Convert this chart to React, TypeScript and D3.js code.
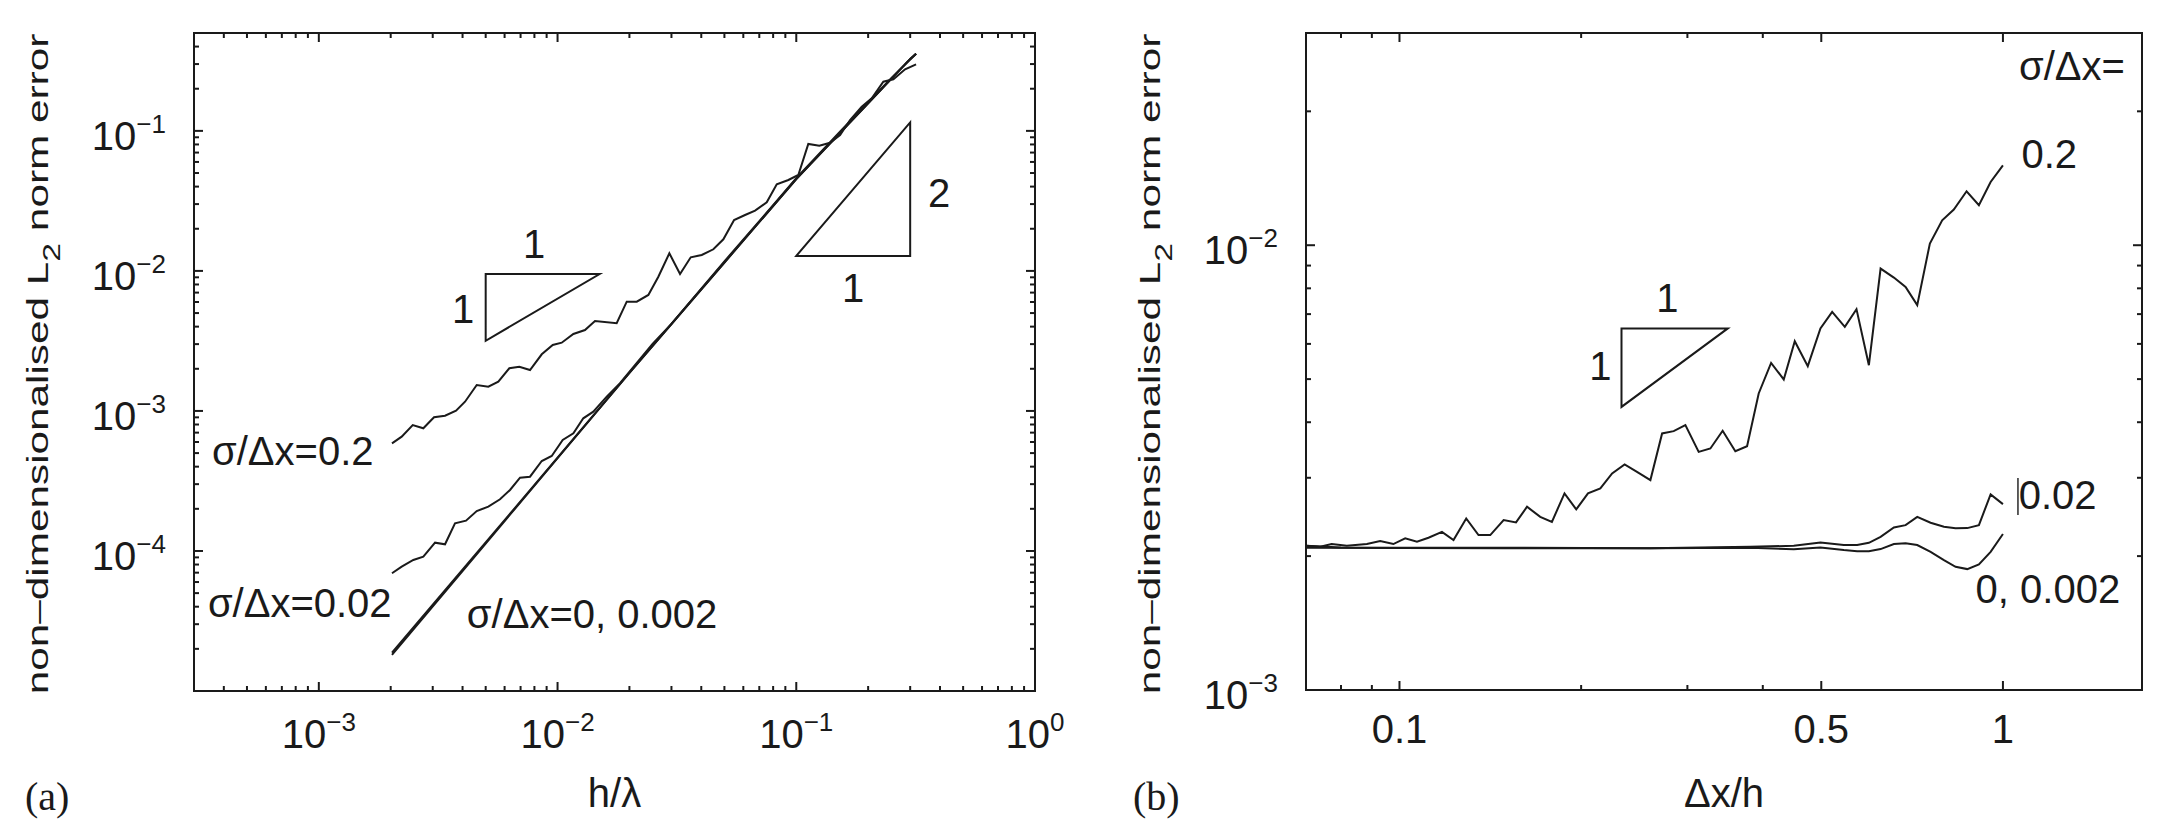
import React from 'react';
import * as d3 from 'd3';

// ================= Panel (a): error vs h/λ =================
// σ/Δx = 0.2
const aS02X = [0.002025, 0.002224, 0.002474, 0.00274, 0.003038, 0.003378, 0.003756, 0.004097, 0.004586, 0.005129, 0.005648, 0.006281, 0.006917, 0.007668, 0.008586, 0.009546, 0.01041, 0.01165, 0.01303, 0.01435, 0.01769, 0.01949, 0.02147, 0.02401, 0.02644, 0.0294, 0.03259, 0.03613, 0.04018, 0.04494, 0.0495, 0.05489, 0.06101, 0.06721, 0.07521, 0.08284, 0.09265, 0.102, 0.1123, 0.1249, 0.1385, 0.1526, 0.168, 0.188, 0.2071, 0.2316, 0.2551, 0.2856, 0.3176];
const aS02Y = [5.87e-4, 6.55e-4, 7.93e-4, 7.52e-4, 9.01e-4, 9.25e-4, 1.004e-3, 1.164e-3, 1.532e-3, 1.49e-3, 1.617e-3, 2.016e-3, 2.069e-3, 1.961e-3, 2.538e-3, 2.958e-3, 3.072e-3, 3.543e-3, 3.784e-3, 4.389e-3, 4.226e-3, 6.03e-3, 6.03e-3, 6.73e-3, 9.09e-3, 1.336e-2, 9.51e-3, 1.251e-2, 1.299e-2, 1.427e-2, 1.681e-2, 2.31e-2, 2.507e-2, 2.692e-2, 3.09e-2, 4.155e-2, 4.458e-2, 4.84e-2, 8.06e-2, 7.83e-2, 8.23e-2, 9.35e-2, 0.1196, 0.1488, 0.1709, 0.2245, 0.2336, 0.2754, 0.2989];
// σ/Δx = 0.02
const aS002X = [0.002025, 0.002224, 0.002488, 0.00274, 0.003068, 0.003378, 0.003719, 0.004136, 0.004586, 0.005129, 0.005741, 0.006323, 0.006964, 0.007668, 0.008586, 0.009453, 0.01051, 0.01165, 0.01282, 0.01412, 0.01607, 0.01827, 0.025, 0.03, 0.05, 0.08, 0.1, 0.15, 0.2, 0.25, 0.3176];
const aS002Y = [6.93e-5, 7.72e-5, 8.62e-5, 9.1e-5, 1.146e-4, 1.116e-4, 1.576e-4, 1.645e-4, 1.929e-4, 2.071e-4, 2.339e-4, 2.726e-4, 3.336e-4, 3.392e-4, 4.39e-4, 4.77e-4, 6.2e-4, 6.92e-4, 8.86e-4, 9.88e-4, 1.264e-3, 1.58e-3, 3.006e-3, 4.18e-3, 1.17e-2, 2.95e-2, 4.6e-2, 9.6e-2, 0.16, 0.238, 0.355];
// σ/Δx = 0
const aS0X = [0.002025, 0.005, 0.01, 0.02, 0.05, 0.1, 0.2, 0.3, 0.3176];
const aS0Y = [1.81e-5, 1.129e-4, 4.6e-4, 1.87e-3, 1.148e-2, 4.53e-2, 0.1576, 0.3266, 0.355];
// σ/Δx = 0.002
const aS0002X = [0.002025, 0.005, 0.01, 0.02, 0.05, 0.1, 0.2, 0.3, 0.3176];
const aS0002Y = [1.88e-5, 1.15e-4, 4.63e-4, 1.87e-3, 1.148e-2, 4.53e-2, 0.1576, 0.3266, 0.355];

// slope triangles (a)
const aTri1 = [[0.005, 0.0095], [0.015, 0.0095], [0.005, 0.00317]];
const aTri2 = [[0.1, 0.0128], [0.3, 0.0128], [0.3, 0.115]];

// ticks (a)
const aXMajor = [1e-3, 1e-2, 1e-1, 1];
const aXMajorExp = ['−3', '−2', '−1', '0'];
const aXMinor = [4e-4, 5e-4, 6e-4, 7e-4, 8e-4, 9e-4, 2e-3, 3e-3, 4e-3, 5e-3, 6e-3, 7e-3, 8e-3, 9e-3, 2e-2, 3e-2, 4e-2, 5e-2, 6e-2, 7e-2, 8e-2, 9e-2, 0.2, 0.3, 0.4, 0.5, 0.6, 0.7, 0.8, 0.9];
const aYMajor = [1e-5, 1e-4, 1e-3, 1e-2, 1e-1];
const aYLabelVals = [1e-4, 1e-3, 1e-2, 1e-1];
const aYLabelExp = ['−4', '−3', '−2', '−1'];
const aYMinor = [2e-5, 3e-5, 4e-5, 5e-5, 6e-5, 7e-5, 8e-5, 9e-5, 2e-4, 3e-4, 4e-4, 5e-4, 6e-4, 7e-4, 8e-4, 9e-4, 2e-3, 3e-3, 4e-3, 5e-3, 6e-3, 7e-3, 8e-3, 9e-3, 2e-2, 3e-2, 4e-2, 5e-2, 6e-2, 7e-2, 8e-2, 9e-2, 0.2, 0.3, 0.4];

// ================= Panel (b): error vs Δx/h =================
const bS02X = [0.07, 0.0739, 0.0772, 0.0818, 0.0883, 0.0929, 0.0977, 0.1022, 0.1069, 0.1117, 0.1176, 0.1229, 0.129, 0.1352, 0.1414, 0.1488, 0.156, 0.1627, 0.1711, 0.1789, 0.1877, 0.1963, 0.2053, 0.2152, 0.2251, 0.2361, 0.2475, 0.2605, 0.2724, 0.2847, 0.2977, 0.3132, 0.3275, 0.3432, 0.3602, 0.3767, 0.3938, 0.4129, 0.4333, 0.4519, 0.4749, 0.4984, 0.5212, 0.547, 0.5719, 0.5996, 0.627, 0.6596, 0.6897, 0.7211, 0.7567, 0.7931, 0.8291, 0.8705, 0.9124, 0.9541, 1.0];
const bS02Y = [0.00211, 0.002099, 0.002129, 0.00211, 0.002129, 0.002162, 0.002129, 0.002193, 0.002155, 0.0022, 0.002268, 0.002174, 0.00243, 0.00223, 0.00223, 0.00241, 0.002381, 0.002582, 0.002451, 0.002388, 0.002767, 0.002547, 0.002767, 0.00284, 0.003069, 0.003215, 0.003094, 0.002964, 0.003775, 0.00382, 0.00394, 0.003431, 0.003492, 0.003826, 0.003443, 0.003533, 0.004642, 0.005438, 0.004991, 0.006085, 0.005346, 0.0065, 0.007082, 0.006554, 0.007182, 0.005373, 0.008861, 0.008458, 0.008057, 0.007332, 0.010088, 0.01138, 0.012028, 0.013222, 0.0123, 0.013874, 0.015123];
const bS002X = [0.07, 0.08, 0.1, 0.15, 0.2605, 0.3816, 0.4502, 0.4984, 0.5449, 0.5734, 0.5996, 0.627, 0.6596, 0.6897, 0.7211, 0.7588, 0.7984, 0.8347, 0.8728, 0.9124, 0.9541, 1.0];
const bS002Y = [0.00211, 0.00209, 0.002088, 0.002088, 0.002082, 0.002099, 0.00211, 0.002147, 0.002118, 0.002118, 0.002143, 0.00221, 0.00232, 0.002348, 0.002451, 0.002377, 0.002328, 0.002309, 0.002312, 0.002348, 0.002753, 0.002618];
const bS0X = [0.07, 0.1, 0.15, 0.2605, 0.3816, 0.4502, 0.4984, 0.5449, 0.5734, 0.5996, 0.627, 0.6596, 0.6897, 0.7211, 0.7588, 0.7984, 0.8347, 0.8728, 0.9124, 0.9541, 1.0];
const bS0Y = [0.002088, 0.002085, 0.002083, 0.002082, 0.002088, 0.002071, 0.002092, 0.002063, 0.002052, 0.002052, 0.002074, 0.002129, 0.002137, 0.002118, 0.002045, 0.001959, 0.001892, 0.00187, 0.001916, 0.002045, 0.002242];

const bTri = [[0.2333, 0.0065], [0.35, 0.0065], [0.2333, 0.00433]];

const bXMajor = [0.1, 0.5, 1];
const bXMajorLabels = ['0.1', '0.5', '1'];
const bXMinor = [0.08, 0.09, 0.2, 0.3, 0.4];
const bYMajor = [1e-3, 1e-2];
const bYLabelExp = ['−3', '−2'];
const bYMinor = [2e-3, 3e-3, 4e-3, 5e-3, 6e-3, 7e-3, 8e-3, 9e-3, 2e-2];

// ================= layout / style =================
const W = 2170, H = 836;
const INK = '#1a1a1a';
const SANS = '"Liberation Sans", Arial, Helvetica, sans-serif';
const SERIF = '"Liberation Serif", "Times New Roman", serif';
const FS = 40, FS_SUP = 26;
const MAJ = 9, MIN = 5;

const aBox = { l: 194, r: 1035, t: 33, b: 691 };
const bBox = { l: 1306, r: 2142, t: 33, b: 690 };

const ax = d3.scaleLog().domain([3e-4, 1]).range([aBox.l, aBox.r]);
const ay = d3.scaleLog().domain([1e-5, 0.5]).range([aBox.b, aBox.t]);
const bx = d3.scaleLog().domain([0.07, 1.7]).range([bBox.l, bBox.r]);
const by = d3.scaleLog().domain([1e-3, 3e-2]).range([bBox.b, bBox.t]);

function Series({ xs, ys, sx, sy }: any) {
  const line = d3.line<[number, number]>().x(d => sx(d[0])).y(d => sy(d[1]));
  const pts = d3.zip(xs, ys) as [number, number][];
  return <path d={line(pts) || ''} fill="none" stroke={INK} strokeWidth={2} strokeLinejoin="miter" />;
}

function Tri({ pts, sx, sy }: any) {
  const line = d3.line<number[]>().x(d => sx(d[0])).y(d => sy(d[1]));
  return <path d={(line(pts) || '') + 'Z'} fill="none" stroke={INK} strokeWidth={2} />;
}

function Frame({ box, sx, sy, xMaj, xMin, yMaj, yMin }: any) {
  const els: any[] = [];
  xMaj.forEach((t: number, i: number) => {
    const X = sx(t);
    els.push(<line key={'xM' + i} x1={X} x2={X} y1={box.b} y2={box.b - MAJ} />);
    els.push(<line key={'xMt' + i} x1={X} x2={X} y1={box.t} y2={box.t + MAJ} />);
  });
  xMin.forEach((t: number, i: number) => {
    const X = sx(t);
    els.push(<line key={'xm' + i} x1={X} x2={X} y1={box.b} y2={box.b - MIN} />);
    els.push(<line key={'xmt' + i} x1={X} x2={X} y1={box.t} y2={box.t + MIN} />);
  });
  yMaj.forEach((t: number, i: number) => {
    const Y = sy(t);
    els.push(<line key={'yM' + i} x1={box.l} x2={box.l + MAJ} y1={Y} y2={Y} />);
    els.push(<line key={'yMr' + i} x1={box.r} x2={box.r - MAJ} y1={Y} y2={Y} />);
  });
  yMin.forEach((t: number, i: number) => {
    const Y = sy(t);
    els.push(<line key={'ym' + i} x1={box.l} x2={box.l + MIN} y1={Y} y2={Y} />);
    els.push(<line key={'ymr' + i} x1={box.r} x2={box.r - MIN} y1={Y} y2={Y} />);
  });
  return (
    <g stroke={INK} strokeWidth={2}>
      {els}
      <rect x={box.l} y={box.t} width={box.r - box.l} height={box.b - box.t} fill="none" />
    </g>
  );
}

function Pow({ x, y, exp, anchor }: any) {
  return (
    <text x={x} y={y} textAnchor={anchor} fontSize={FS}>
      <tspan>10</tspan>
      <tspan dy={-17} fontSize={FS_SUP}>{exp}</tspan>
    </text>
  );
}

function YLabel({ x, y }: any) {
  return (
    <text transform={`translate(${x},${y}) rotate(-90) scale(1.41,1)`} textAnchor="middle" fontSize={30}>
      <tspan>non–dimensionalised L</tspan>
      <tspan dy={12} fontSize={24}>2</tspan>
      <tspan dy={-12}> norm error</tspan>
    </text>
  );
}

function Label({ x, y, children, anchor = 'start', size = FS }: any) {
  return <text x={x} y={y} textAnchor={anchor} fontSize={size}>{children}</text>;
}

export default function App() {
  const aMidX = (aBox.l + aBox.r) / 2;
  const bMidX = (bBox.l + bBox.r) / 2;
  const midY = (aBox.t + aBox.b) / 2;
  return (
    <svg width={W} height={H} style={{ position: 'absolute', left: 0, top: 0, background: '#fff' }}
      fontFamily={SANS} fill={INK}>
      <rect width={W} height={H} fill="#fff" />
      {/* ---------- panel (a) ---------- */}
      <Frame box={aBox} sx={ax} sy={ay} xMaj={aXMajor} xMin={aXMinor} yMaj={aYMajor} yMin={aYMinor} />
      <Series xs={aS0X} ys={aS0Y} sx={ax} sy={ay} />
      <Series xs={aS0002X} ys={aS0002Y} sx={ax} sy={ay} />
      <Series xs={aS002X} ys={aS002Y} sx={ax} sy={ay} />
      <Series xs={aS02X} ys={aS02Y} sx={ax} sy={ay} />
      <Tri pts={aTri1} sx={ax} sy={ay} />
      <Tri pts={aTri2} sx={ax} sy={ay} />
      {aXMajor.map((t, i) => <Pow key={'ax' + i} x={ax(t)} y={aBox.b + 57} exp={aXMajorExp[i]} anchor="middle" />)}
      {aYLabelVals.map((t, i) => <Pow key={'ay' + i} x={aBox.l - 28} y={ay(t) + 19} exp={aYLabelExp[i]} anchor="end" />)}
      <Label x={aMidX} y={807} anchor="middle">h/λ</Label>
      <YLabel x={48} y={midY + 2} />
      <Label x={ax(3.57e-4)} y={ay(4.11e-4)}>σ/Δx=0.2</Label>
      <Label x={ax(3.43e-4)} y={ay(3.38e-5)}>σ/Δx=0.02</Label>
      <Label x={ax(4.17e-3)} y={ay(2.82e-5)}>σ/Δx=0, 0.002</Label>
      <Label x={ax(7.97e-3)} y={ay(1.237e-2)} anchor="middle">1</Label>
      <Label x={ax(4.02e-3)} y={ay(4.25e-3)} anchor="middle">1</Label>
      <Label x={ax(0.3964)} y={ay(2.86e-2)} anchor="middle">2</Label>
      <Label x={ax(0.173)} y={ay(6.0e-3)} anchor="middle">1</Label>
      <text x={25} y={810} fontFamily={SERIF} fontSize={40}>(a)</text>

      {/* ---------- panel (b) ---------- */}
      <Frame box={bBox} sx={bx} sy={by} xMaj={bXMajor} xMin={bXMinor} yMaj={bYMajor} yMin={bYMinor} />
      <Series xs={bS0X} ys={bS0Y} sx={bx} sy={by} />
      <Series xs={bS002X} ys={bS002Y} sx={bx} sy={by} />
      <Series xs={bS02X} ys={bS02Y} sx={bx} sy={by} />
      <Tri pts={bTri} sx={bx} sy={by} />
      {bXMajor.map((t, i) => <Label key={'bx' + i} x={bx(t)} y={bBox.b + 53} anchor="middle">{bXMajorLabels[i]}</Label>)}
      {bYMajor.map((t, i) => <Pow key={'by' + i} x={bBox.l - 28} y={by(t) + 19} exp={bYLabelExp[i]} anchor="end" />)}
      <Label x={bMidX} y={807} anchor="middle">Δx/h</Label>
      <YLabel x={1160} y={midY + 2} />
      <Label x={bx(1.063)} y={by(0.02358)}>σ/Δx=</Label>
      <Label x={bx(1.073)} y={by(0.01488)}>0.2</Label>
      <Label x={bx(1.062)} y={by(0.002547)}>0.02</Label>
      <line x1={bx(1.059)} x2={bx(1.059)} y1={by(0.002995)} y2={by(0.002474)} stroke={INK} strokeWidth={1.4} />
      <Label x={bx(0.901)} y={by(0.001566)}>0, 0.002</Label>
      <Label x={bx(0.278)} y={by(0.00708)} anchor="middle">1</Label>
      <Label x={bx(0.2152)} y={by(0.00497)} anchor="middle">1</Label>
      <text x={1133} y={810} fontFamily={SERIF} fontSize={40}>(b)</text>
    </svg>
  );
}
